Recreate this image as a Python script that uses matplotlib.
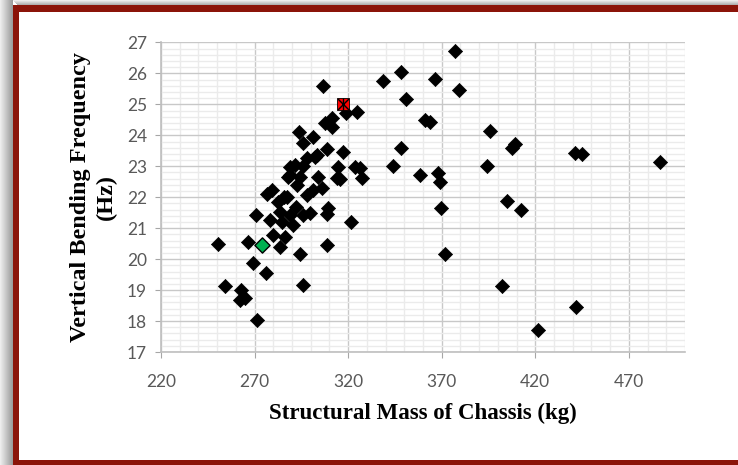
import matplotlib
matplotlib.use("Agg")
import matplotlib.pyplot as plt
from matplotlib.patches import Rectangle
from matplotlib.ticker import MultipleLocator

# ---- data ----
mass = [486.6, 441.7, 421.4, 402.0, 412.5, 405.0, 441.0, 445.0, 407.5, 409.0,
        396.0, 394.2, 377.0, 379.5, 366.3, 348.0, 338.5, 350.9, 361.2, 363.5,
        348.2, 344.1, 358.3, 368.0, 368.9, 369.5, 371.7, 321.3, 324.9, 318.8,
        311.2, 311.2, 306.4, 307.6, 317.5, 314.7, 315.6, 323.6, 326.3, 327.2,
        270.7, 250.6, 266.3, 269.3, 276.1, 294.5, 308.5, 296.0, 254.2, 262.6,
        262.2, 264.9, 271.1,
        293.9, 301.4, 296.0, 308.5, 302.3, 291.6, 296.0, 288.9, 294.3, 304.0,
        313.8, 279.1, 292.5, 282.7, 287.2, 297.8, 301.4, 309.4, 308.5, 283.6,
        288.9, 296.0, 290.6, 280.0, 286.2, 283.6, 297.8, 284.5, 292.0, 299.5,
        285.5, 278.0, 289.0, 288.0, 303.2, 276.5, 306.0]
freq = [23.14, 18.45, 17.72, 19.12, 21.60, 21.87, 23.43, 23.41, 23.58, 23.72,
        24.15, 23.00, 26.73, 25.47, 25.82, 26.05, 25.74, 25.18, 24.51, 24.43,
        23.58, 23.00, 22.72, 22.78, 22.48, 21.65, 20.17, 21.20, 24.76, 24.71,
        24.55, 24.28, 25.60, 24.39, 23.47, 22.97, 22.59, 22.99, 22.94, 22.61,
        21.43, 20.48, 20.56, 19.89, 19.56, 20.16, 20.45, 19.16, 19.14, 19.00,
        18.68, 18.75, 18.03,
        24.12, 23.96, 23.75, 23.55, 23.31, 23.04, 23.00, 22.72, 22.66, 22.66,
        22.62, 22.25, 22.40, 21.86, 22.02, 22.07, 22.23, 21.64, 21.45, 21.53,
        21.43, 21.43, 21.10, 20.78, 20.73, 20.40, 23.26, 21.20, 21.70, 21.50,
        22.00, 21.25, 22.99, 22.66, 23.37, 22.10, 22.30]

baseline_mass = [274.1]
baseline_freq = [20.46]
optimum_mass = [317.0]
optimum_freq = [25.0]

x_ticks = [220, 270, 320, 370, 420, 470]
y_ticks = [17, 18, 19, 20, 21, 22, 23, 24, 25, 26, 27]

x_label = "Structural Mass of Chassis (kg)"
y_label = "Vertical Bending Frequency\n(Hz)"

# ---- figure ----
W, H = 738, 465
fig = plt.figure(figsize=(W / 100, H / 100), dpi=100)
fig.patch.set_facecolor("white")

def fx(px):
    return px / W

def fy(py):
    return 1 - py / H

# frame shadow (grey gradient) and dark red border
shadow_w = 13
for i in range(shadow_w):
    g = 0.93 - 0.35 * (i / shadow_w)
    fig.patches.append(Rectangle((fx(i), 0), fx(1), 1, transform=fig.transFigure,
                                 facecolor=(g, g, g), edgecolor="none", zorder=0))
for i in range(5):
    g = 0.93 - 0.3 * (i / 5)
    fig.patches.append(Rectangle((fx(13 + i), fy(i + 1)), 1, fy(i) - fy(i + 1),
                                 transform=fig.transFigure,
                                 facecolor=(g, g, g), edgecolor="none", zorder=0))
red = "#8B1409"
fig.patches.append(Rectangle((fx(13), 0), fx(6), 1 - 5 / H, transform=fig.transFigure,
                             facecolor=red, edgecolor="none", zorder=1))
fig.patches.append(Rectangle((fx(13), fy(12)), 1, 7 / H, transform=fig.transFigure,
                             facecolor=red, edgecolor="none", zorder=1))
fig.patches.append(Rectangle((fx(13), 0), 1, 5 / H, transform=fig.transFigure,
                             facecolor=red, edgecolor="none", zorder=1))

ax = fig.add_axes([161 / W, 1 - 352 / H, (685 - 161) / W, (352 - 42.5) / H])
ax.set_xlim(220, 500)
ax.set_ylim(17, 27)

ax.set_xticks(x_ticks)
ax.set_yticks(y_ticks)
ax.xaxis.set_minor_locator(MultipleLocator(10))
ax.yaxis.set_minor_locator(MultipleLocator(0.2))

ax.grid(which="minor", color="#EBEBEB", linewidth=1.0, zorder=0)
ax.grid(which="major", color="#C8C8C8", linewidth=1.0, zorder=0)
ax.set_axisbelow(True)

for s in ["top", "right"]:
    ax.spines[s].set_visible(False)
for s in ["left", "bottom"]:
    ax.spines[s].set_color("#BFBFBF")
    ax.spines[s].set_linewidth(1.2)

ax.tick_params(which="minor", length=0)
ax.tick_params(which="major", length=4, color="#A6A6A6", labelcolor="#595959",
               labelsize=12.5)
ax.tick_params(axis="x", pad=12)
ax.tick_params(axis="y", pad=6)
for lab in ax.get_xticklabels() + ax.get_yticklabels():
    lab.set_family("Lato")

ax.scatter(mass, freq, marker="D", s=52, color="black", edgecolors="black",
           linewidths=0.5, zorder=3)
ax.scatter(baseline_mass, baseline_freq, marker="D", s=60, color="#00B050",
           edgecolors="black", linewidths=1.0, zorder=4)
ax.scatter(optimum_mass, optimum_freq, marker="s", s=80, color="#FF0000",
           edgecolors="black", linewidths=0.6, zorder=5)
ax.scatter(optimum_mass, optimum_freq, marker="x", s=60, color="black",
           linewidths=1.0, zorder=6)
ax.scatter(optimum_mass, optimum_freq, marker="|", s=70, color="black",
           linewidths=1.0, zorder=6)

ax.set_xlabel(x_label, family="Liberation Serif", fontweight="bold", fontsize=16.5,
              labelpad=9)
ax.set_ylabel(y_label, family="Liberation Serif", fontweight="bold", fontsize=17.5,
              labelpad=7, linespacing=1.3)

fig.savefig("out.png", dpi=100, facecolor="white")
